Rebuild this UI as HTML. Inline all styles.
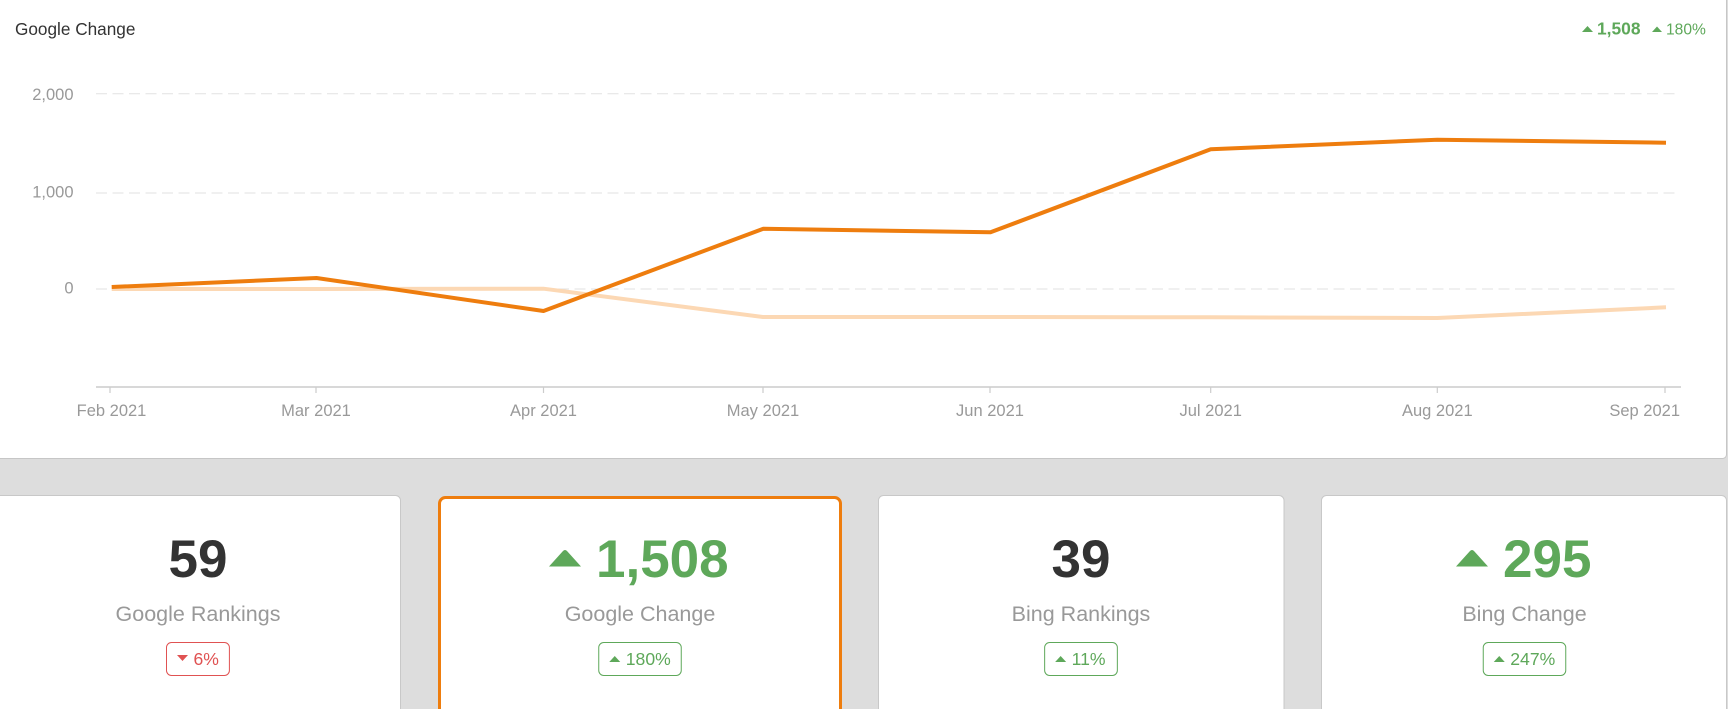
<!DOCTYPE html>
<html><head><meta charset="utf-8"><style>
html,body{margin:0;padding:0;width:1728px;height:709px;overflow:hidden;background:#dddddd;}
svg{display:block;font-family:"Liberation Sans",Arial,sans-serif;}
</style></head><body>
<svg width="1728" height="709" viewBox="0 0 1728 709" xmlns="http://www.w3.org/2000/svg">
<rect x="0" y="0" width="1728" height="709" fill="#dddddd"/>
<!-- chart card -->
<rect x="-10" y="-10" width="1736.5" height="468.5" rx="4" fill="#ffffff" stroke="#c6c6c6" stroke-width="1"/>
<text x="15" y="35" font-size="17.2" fill="#333333">Google Change</text>
<!-- header right -->
<path d="M1582,32 L1587.5,26 L1593,32 Z" fill="#5ea85a"/>
<text x="1597" y="34.5" font-size="17.4" font-weight="bold" fill="#5ea85a">1,508</text>
<path d="M1652,32 L1657,26.5 L1662,32 Z" fill="#5ea85a"/>
<text x="1666" y="34.5" font-size="15.6" fill="#5ea85a">180%</text>
<!-- gridlines -->
<g stroke="#e2e2e2" stroke-width="1" stroke-dasharray="11,5.5">
<line x1="96" y1="93.7" x2="1680" y2="93.7"/>
<line x1="96" y1="193" x2="1680" y2="193"/>
<line x1="96" y1="289" x2="1680" y2="289"/>
</g>
<!-- y labels -->
<g font-size="16.5" fill="#999999" text-anchor="end">
<text x="73.5" y="100">2,000</text>
<text x="73.5" y="197.5">1,000</text>
<text x="73.5" y="293.5">0</text>
</g>
<!-- x axis -->
<line x1="96" y1="387" x2="1681" y2="387" stroke="#cccccc" stroke-width="1.5"/>
<g stroke="#cccccc" stroke-width="1.2">
<line x1="110" y1="387" x2="110" y2="393"/>
<line x1="316" y1="387" x2="316" y2="393"/>
<line x1="543.5" y1="387" x2="543.5" y2="393"/>
<line x1="763" y1="387" x2="763" y2="393"/>
<line x1="990" y1="387" x2="990" y2="393"/>
<line x1="1210.7" y1="387" x2="1210.7" y2="393"/>
<line x1="1437.3" y1="387" x2="1437.3" y2="393"/>
<line x1="1665" y1="387" x2="1665" y2="393"/>
</g>
<g font-size="16.5" fill="#999999" text-anchor="middle">
<text x="111.5" y="416">Feb 2021</text>
<text x="316" y="416">Mar 2021</text>
<text x="543.5" y="416">Apr 2021</text>
<text x="763" y="416">May 2021</text>
<text x="990" y="416">Jun 2021</text>
<text x="1210.7" y="416">Jul 2021</text>
<text x="1437.3" y="416">Aug 2021</text>
<text x="1680" y="416" text-anchor="end">Sep 2021</text>
</g>
<!-- series -->
<polyline fill="none" stroke="#fcd8b4" stroke-width="4" stroke-linejoin="round" points="111.7,289 316,289 543.5,288.7 763,317 990,317 1210.7,317.3 1437.3,318 1666,307.3"/>
<polyline fill="none" stroke="#ee7d0e" stroke-width="4" stroke-linejoin="round" points="111.7,287 316.5,278 543.5,311 763.3,228.7 990.5,232.3 1210.7,149.3 1437.3,139.7 1666,142.7"/>

<!-- cards -->
<rect x="-4.5" y="495.5" width="405" height="240" rx="5" fill="#ffffff" stroke="#c8c8c8" stroke-width="1"/>
<rect x="439.5" y="497.5" width="401" height="240" rx="6" fill="#ffffff" stroke="#ee7d0e" stroke-width="3"/>
<rect x="878.5" y="495.5" width="405.5" height="240" rx="5" fill="#ffffff" stroke="#c8c8c8" stroke-width="1"/>
<rect x="1321.5" y="495.5" width="405" height="240" rx="5" fill="#ffffff" stroke="#c8c8c8" stroke-width="1"/>

<!-- card 1 -->
<text x="198" y="577" font-size="53" font-weight="bold" fill="#333333" text-anchor="middle">59</text>
<text x="198" y="621" font-size="21.5" fill="#999999" text-anchor="middle">Google Rankings</text>
<rect x="166.5" y="642.5" width="62.9" height="33" rx="5" fill="#ffffff" stroke="#e05252" stroke-width="1"/>
<path d="M177,655 L188,655 L182.5,661 Z" fill="#e05252"/>
<text x="193.5" y="665" font-size="17.6" fill="#e05252">6%</text>

<!-- card 2 -->
<path d="M549,566.5 L563,551 Q565,549 567,551 L581,566.5 Z" fill="#5ea85a"/>
<text x="596" y="577" font-size="53" font-weight="bold" fill="#5ea85a">1,508</text>
<text x="640" y="621" font-size="21.5" fill="#999999" text-anchor="middle">Google Change</text>
<rect x="598.75" y="642.5" width="82.5" height="33" rx="5" fill="#ffffff" stroke="#5ea85a" stroke-width="1"/>
<path d="M609.25,662 L614.75,656 L620.25,662 Z" fill="#5ea85a"/>
<text x="625.75" y="665" font-size="17.6" fill="#5ea85a">180%</text>

<!-- card 3 -->
<text x="1081" y="577" font-size="53" font-weight="bold" fill="#333333" text-anchor="middle">39</text>
<text x="1081" y="621" font-size="21.5" fill="#999999" text-anchor="middle">Bing Rankings</text>
<rect x="1044.65" y="642.5" width="72.7" height="33" rx="5" fill="#ffffff" stroke="#5ea85a" stroke-width="1"/>
<path d="M1055.15,662 L1060.65,656 L1066.15,662 Z" fill="#5ea85a"/>
<text x="1071.65" y="665" font-size="17.6" fill="#5ea85a">11%</text>

<!-- card 4 -->
<path d="M1456,566.5 L1470,551 Q1472,549 1474,551 L1488,566.5 Z" fill="#5ea85a"/>
<text x="1503" y="577" font-size="53" font-weight="bold" fill="#5ea85a">295</text>
<text x="1524.5" y="621" font-size="21.5" fill="#999999" text-anchor="middle">Bing Change</text>
<rect x="1483.25" y="642.5" width="82.5" height="33" rx="5" fill="#ffffff" stroke="#5ea85a" stroke-width="1"/>
<path d="M1493.75,662 L1499.25,656 L1504.75,662 Z" fill="#5ea85a"/>
<text x="1510.25" y="665" font-size="17.6" fill="#5ea85a">247%</text>
</svg>
</body></html>
